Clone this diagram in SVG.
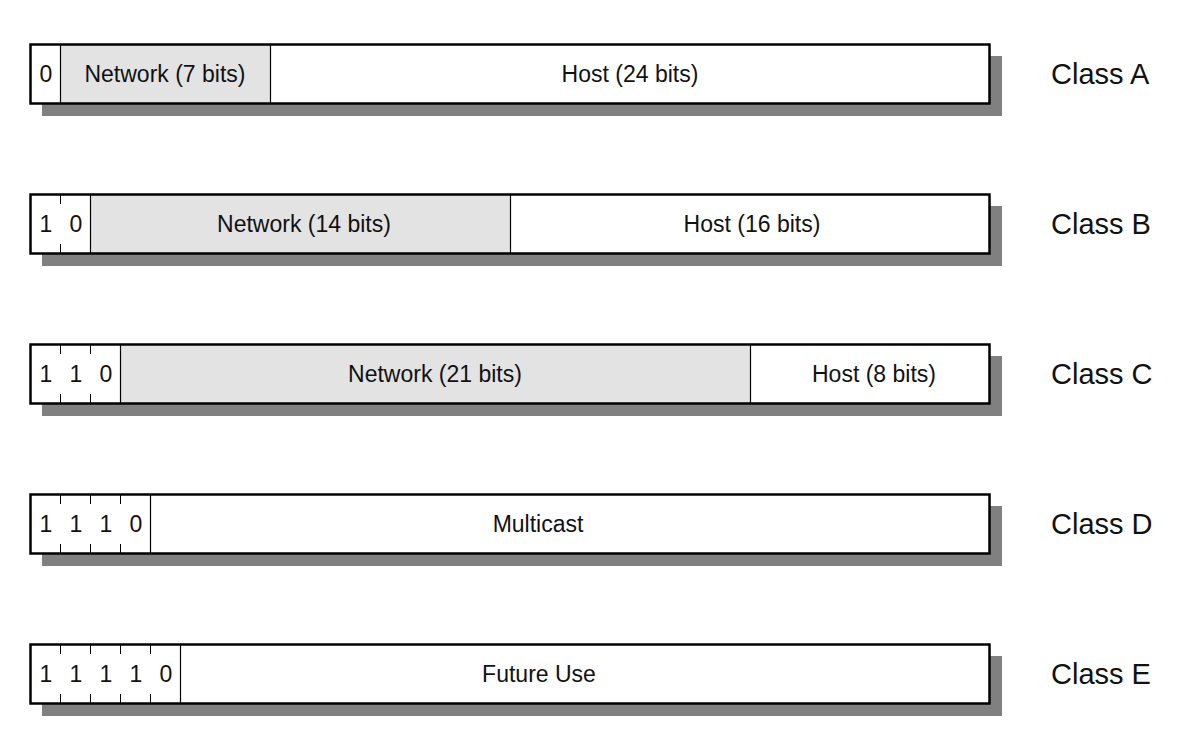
<svg xmlns="http://www.w3.org/2000/svg" width="1190" height="738" viewBox="0 0 1190 738">
  <style>
    .shadow { fill: #808080; }
    .frame { fill: none; stroke: #000; stroke-width: 2.5; }
    .net { fill: #e3e3e3; }
    .host { fill: #fff; }
    .div { stroke: #000; stroke-width: 1.2; fill: none; }
    .tick { stroke: #000; stroke-width: 1; }
    .t { font-family: "Liberation Sans", Arial, sans-serif; font-size: 23px; fill: #111; text-anchor: middle; }
    .cls { font-family: "Liberation Sans", Arial, sans-serif; font-size: 29px; fill: #111; }
  </style>
  <rect width="1190" height="738" fill="#fff"/>

  <!-- Class A: 0 | network 7 | host 24 (30 px per bit) -->
  <g id="classA">
    <rect class="shadow" x="42" y="56" width="960" height="60"/>
    <rect class="host" x="30" y="44" width="960" height="60"/>
    <rect class="net" x="60" y="44" width="210" height="60"/>
    <line class="div" x1="60.5" y1="44" x2="60.5" y2="104"/>
    <line class="div" x1="270.5" y1="44" x2="270.5" y2="104"/>
    <rect class="frame" x="30.5" y="44.5" width="959" height="59"/>
    <text class="t" x="46" y="82">0</text>
    <text class="t" x="165" y="82">Network (7 bits)</text>
    <text class="t" x="630" y="82">Host (24 bits)</text>
    <text class="cls" x="1051" y="84">Class A</text>
  </g>

  <!-- Class B: 1 0 | network 14 | host 16 -->
  <g id="classB">
    <rect class="shadow" x="42" y="206" width="960" height="60"/>
    <rect class="host" x="30" y="194" width="960" height="60"/>
    <rect class="net" x="90" y="194" width="420" height="60"/>
    <line class="tick" x1="60.5" y1="194" x2="60.5" y2="204"/>
    <line class="tick" x1="60.5" y1="244" x2="60.5" y2="254"/>
    <line class="div" x1="90.5" y1="194" x2="90.5" y2="254"/>
    <line class="div" x1="510.5" y1="194" x2="510.5" y2="254"/>
    <rect class="frame" x="30.5" y="194.5" width="959" height="59"/>
    <text class="t" x="46" y="232">1</text>
    <text class="t" x="76" y="232">0</text>
    <text class="t" x="304" y="232">Network (14 bits)</text>
    <text class="t" x="752" y="232">Host (16 bits)</text>
    <text class="cls" x="1051" y="234">Class B</text>
  </g>

  <!-- Class C: 1 1 0 | network 21 | host 8 -->
  <g id="classC">
    <rect class="shadow" x="42" y="356" width="960" height="60"/>
    <rect class="host" x="30" y="344" width="960" height="60"/>
    <rect class="net" x="120" y="344" width="630" height="60"/>
    <line class="tick" x1="60.5" y1="344" x2="60.5" y2="354"/>
    <line class="tick" x1="60.5" y1="394" x2="60.5" y2="404"/>
    <line class="tick" x1="90.5" y1="344" x2="90.5" y2="354"/>
    <line class="tick" x1="90.5" y1="394" x2="90.5" y2="404"/>
    <line class="div" x1="120.5" y1="344" x2="120.5" y2="404"/>
    <line class="div" x1="750.5" y1="344" x2="750.5" y2="404"/>
    <rect class="frame" x="30.5" y="344.5" width="959" height="59"/>
    <text class="t" x="46" y="382">1</text>
    <text class="t" x="76" y="382">1</text>
    <text class="t" x="106" y="382">0</text>
    <text class="t" x="435" y="382">Network (21 bits)</text>
    <text class="t" x="874" y="382">Host (8 bits)</text>
    <text class="cls" x="1051" y="384">Class C</text>
  </g>

  <!-- Class D: 1 1 1 0 | multicast -->
  <g id="classD">
    <rect class="shadow" x="42" y="506" width="960" height="60"/>
    <rect class="host" x="30" y="494" width="960" height="60"/>
    <line class="tick" x1="60.5" y1="494" x2="60.5" y2="504"/>
    <line class="tick" x1="60.5" y1="544" x2="60.5" y2="554"/>
    <line class="tick" x1="90.5" y1="494" x2="90.5" y2="504"/>
    <line class="tick" x1="90.5" y1="544" x2="90.5" y2="554"/>
    <line class="tick" x1="120.5" y1="494" x2="120.5" y2="504"/>
    <line class="tick" x1="120.5" y1="544" x2="120.5" y2="554"/>
    <line class="div" x1="150.5" y1="494" x2="150.5" y2="554"/>
    <rect class="frame" x="30.5" y="494.5" width="959" height="59"/>
    <text class="t" x="46" y="532">1</text>
    <text class="t" x="76" y="532">1</text>
    <text class="t" x="106" y="532">1</text>
    <text class="t" x="136" y="532">0</text>
    <text class="t" x="538" y="532">Multicast</text>
    <text class="cls" x="1051" y="534">Class D</text>
  </g>

  <!-- Class E: 1 1 1 1 0 | future use -->
  <g id="classE">
    <rect class="shadow" x="42" y="656" width="960" height="60"/>
    <rect class="host" x="30" y="644" width="960" height="60"/>
    <line class="tick" x1="60.5" y1="644" x2="60.5" y2="654"/>
    <line class="tick" x1="60.5" y1="694" x2="60.5" y2="704"/>
    <line class="tick" x1="90.5" y1="644" x2="90.5" y2="654"/>
    <line class="tick" x1="90.5" y1="694" x2="90.5" y2="704"/>
    <line class="tick" x1="120.5" y1="644" x2="120.5" y2="654"/>
    <line class="tick" x1="120.5" y1="694" x2="120.5" y2="704"/>
    <line class="tick" x1="150.5" y1="644" x2="150.5" y2="654"/>
    <line class="tick" x1="150.5" y1="694" x2="150.5" y2="704"/>
    <line class="div" x1="180.5" y1="644" x2="180.5" y2="704"/>
    <rect class="frame" x="30.5" y="644.5" width="959" height="59"/>
    <text class="t" x="46" y="682">1</text>
    <text class="t" x="76" y="682">1</text>
    <text class="t" x="106" y="682">1</text>
    <text class="t" x="136" y="682">1</text>
    <text class="t" x="166" y="682">0</text>
    <text class="t" x="539" y="682">Future Use</text>
    <text class="cls" x="1051" y="684">Class E</text>
  </g>

  <g id="connectors"></g>
</svg>
